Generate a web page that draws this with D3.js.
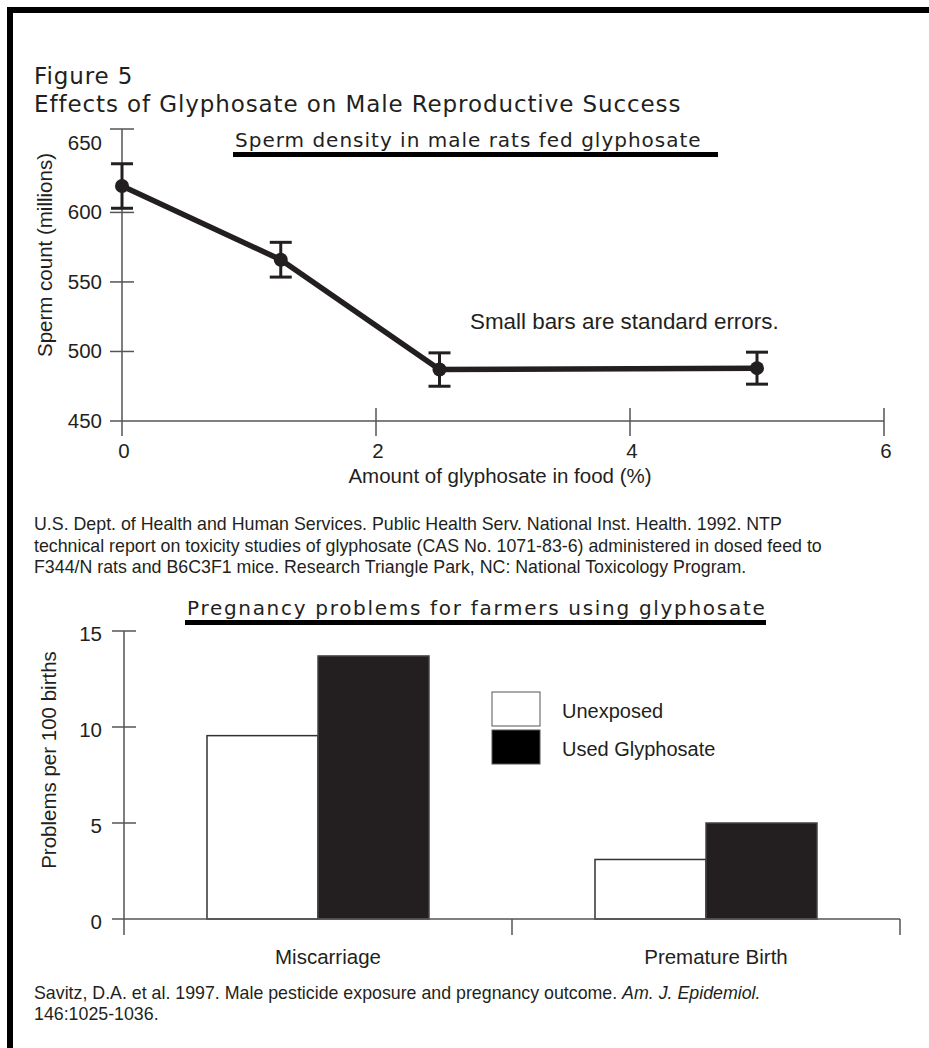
<!DOCTYPE html>
<html>
<head>
<meta charset="utf-8">
<script src="https://cdn.jsdelivr.net/npm/d3@7"></script>
<style>
  body { margin: 0; background: #fff; }
  svg { display: block; }
  .geo { font-family: "DejaVu Sans", sans-serif; fill: #231f20; }
  .hel { font-family: "Liberation Sans", Arial, sans-serif; fill: #231f20; }
</style>
</head>
<body>
<div id="chart"></div>
<script>
const d3 = window.d3;

// panel 1: sperm density in rats
const dose = [0, 1.25, 2.5, 5];
const spermCount = [619, 566, 487, 488];
const spermSE = [16, 12.5, 12, 11.5];
const doseTicks = [0, 2, 4, 6];
const countTicks = [450, 500, 550, 600, 650];

// panel 2: pregnancy problems
const outcomes = ["Miscarriage", "Premature Birth"];
const groups = ["Unexposed", "Used Glyphosate"];
const unexposedRate = [9.55, 3.1];
const glyphosateRate = [13.7, 5.0];
const rateTicks = [0, 5, 10, 15];

const citation1 = [
  "U.S. Dept. of Health and Human Services. Public Health Serv. National Inst. Health. 1992. NTP",
  "technical report on toxicity studies of glyphosate (CAS No. 1071-83-6) administered in dosed feed to",
  "F344/N rats and B6C3F1 mice. Research Triangle Park, NC: National Toxicology Program."
];

const INK = "#231f20";
const AXIS = "#555";
const W = 929, H = 1048;
const FS = "20.5px";

const svg = d3.select("#chart").append("svg").attr("width", W).attr("height", H);

// frame (top + left only)
svg.append("rect").attr("x", 7).attr("y", 7).attr("width", W - 7).attr("height", 6).attr("fill", "#000");
svg.append("rect").attr("x", 7).attr("y", 7).attr("width", 6).attr("height", H - 7).attr("fill", "#000");

svg.append("text").attr("class", "geo").attr("x", 34).attr("y", 84)
  .style("font-size", "23px").style("letter-spacing", "0.9px").text("Figure 5");
svg.append("text").attr("class", "geo").attr("x", 34).attr("y", 112)
  .style("font-size", "23px").style("letter-spacing", "0.9px").text("Effects of Glyphosate on Male Reproductive Success");

// ---------- panel 1 ----------
const x1 = d3.scaleLinear().domain([0, 6]).range([122, 884]);
const y1 = d3.scaleLinear().domain([450, 660]).range([421, 129]);
const g1 = svg.append("g");

// axes
g1.append("line").attr("x1", 110).attr("x2", x1(6)).attr("y1", y1(450)).attr("y2", y1(450))
  .attr("stroke", AXIS).attr("stroke-width", 1.5);
g1.append("line").attr("x1", x1(0)).attr("x2", x1(0)).attr("y1", y1(660)).attr("y2", y1(450) + 15)
  .attr("stroke", AXIS).attr("stroke-width", 1.5);
g1.selectAll(".xt").data(doseTicks.slice(1)).join("line")
  .attr("x1", d => x1(d)).attr("x2", d => x1(d))
  .attr("y1", y1(450) - 13).attr("y2", y1(450) + 15)
  .attr("stroke", AXIS).attr("stroke-width", 1.5);
g1.selectAll(".yt").data([500, 550, 600, 660]).join("line")
  .attr("x1", x1(0) - 12).attr("x2", x1(0) + 12)
  .attr("y1", d => y1(d)).attr("y2", d => y1(d))
  .attr("stroke", AXIS).attr("stroke-width", 1.5);
g1.selectAll(".xl").data(doseTicks).join("text").attr("class", "hel")
  .attr("x", d => x1(d) + 2).attr("y", 458).attr("text-anchor", "middle")
  .style("font-size", FS).text(d => d);
g1.selectAll(".yl").data(countTicks).join("text").attr("class", "hel")
  .attr("x", 102).attr("y", d => y1(d) + 7).attr("text-anchor", "end")
  .style("font-size", FS).text(d => d);

g1.append("text").attr("class", "hel")
  .attr("transform", "translate(52,255) rotate(-90)").attr("text-anchor", "middle")
  .style("font-size", FS).text("Sperm count (millions)");
g1.append("text").attr("class", "hel").attr("x", 500).attr("y", 483).attr("text-anchor", "middle")
  .style("font-size", FS).text("Amount of glyphosate in food (%)");

g1.append("text").attr("class", "geo").attr("x", 235).attr("y", 147)
  .style("font-size", "20px").style("letter-spacing", "1px").text("Sperm density in male rats fed glyphosate");
g1.append("rect").attr("x", 233).attr("y", 152).attr("width", 485).attr("height", 5).attr("fill", "#000");

g1.append("text").attr("class", "hel").attr("x", 470).attr("y", 329)
  .style("font-size", "22.4px").text("Small bars are standard errors.");

const pts = dose.map((d, i) => ({ x: d, y: spermCount[i], se: spermSE[i] }));

g1.append("path").datum(pts)
  .attr("d", d3.line().x(d => x1(d.x)).y(d => y1(d.y)))
  .attr("fill", "none").attr("stroke", INK).attr("stroke-width", 5.5).attr("stroke-linejoin", "round");

const eb = g1.selectAll(".eb").data(pts).join("g");
eb.append("line").attr("x1", d => x1(d.x)).attr("x2", d => x1(d.x))
  .attr("y1", d => y1(d.y - d.se)).attr("y2", d => y1(d.y + d.se))
  .attr("stroke", INK).attr("stroke-width", 3);
eb.selectAll(".cap").data(d => [d.y - d.se, d.y + d.se].map(v => ({ x: d.x, v }))).join("line")
  .attr("x1", d => x1(d.x) - 11).attr("x2", d => x1(d.x) + 11)
  .attr("y1", d => y1(d.v)).attr("y2", d => y1(d.v))
  .attr("stroke", INK).attr("stroke-width", 3);
g1.selectAll(".dot").data(pts).join("circle")
  .attr("cx", d => x1(d.x)).attr("cy", d => y1(d.y)).attr("r", 7).attr("fill", INK);

// citation 1
svg.append("g").selectAll("text").data(citation1).join("text").attr("class", "hel")
  .attr("x", 34).attr("y", (d, i) => 530 + i * 21.5)
  .style("font-size", "17.8px").text(d => d);

// ---------- panel 2 ----------
const x2 = d3.scaleBand().domain(outcomes).range([124, 900]);
const xg = d3.scaleBand().domain(groups).range([x2.bandwidth() / 2 - 111, x2.bandwidth() / 2 + 111]);
const y2 = d3.scaleLinear().domain([0, 15]).range([919, 631]);
const g2 = svg.append("g");

g2.append("text").attr("class", "geo").attr("x", 187).attr("y", 615)
  .style("font-size", "20px").style("letter-spacing", "1.7px").text("Pregnancy problems for farmers using glyphosate");
g2.append("rect").attr("x", 185).attr("y", 620).attr("width", 581).attr("height", 5).attr("fill", "#000");

const rows = outcomes.map((o, i) => ({ o, vals: [unexposedRate[i], glyphosateRate[i]] }));
const barG = g2.selectAll(".bg").data(rows).join("g")
  .attr("transform", d => `translate(${x2(d.o)},0)`);
barG.selectAll("rect").data(d => d.vals.map((v, j) => ({ g: groups[j], v }))).join("rect")
  .attr("x", d => xg(d.g)).attr("width", xg.bandwidth())
  .attr("y", d => y2(d.v)).attr("height", d => y2(0) - y2(d.v))
  .attr("fill", d => d.g === groups[0] ? "#fff" : INK)
  .attr("stroke", d => d.g === groups[0] ? "#333" : "#444").attr("stroke-width", 1.5);

// axes
g2.append("line").attr("x1", 112).attr("x2", 900).attr("y1", y2(0)).attr("y2", y2(0))
  .attr("stroke", AXIS).attr("stroke-width", 1.5);
g2.append("line").attr("x1", 124).attr("x2", 124).attr("y1", y2(15)).attr("y2", y2(0) + 16)
  .attr("stroke", AXIS).attr("stroke-width", 1.5);
g2.selectAll(".xt").data([outcomes[1]]).join("line")
  .attr("x1", d => x2(d)).attr("x2", d => x2(d)).attr("y1", y2(0)).attr("y2", y2(0) + 16)
  .attr("stroke", AXIS).attr("stroke-width", 1.5);
g2.append("line").attr("x1", 900).attr("x2", 900).attr("y1", y2(0)).attr("y2", y2(0) + 16)
  .attr("stroke", AXIS).attr("stroke-width", 1.5);
g2.selectAll(".yt").data(rateTicks.slice(1)).join("line")
  .attr("x1", 112).attr("x2", 136).attr("y1", d => y2(d)).attr("y2", d => y2(d))
  .attr("stroke", AXIS).attr("stroke-width", 1.5);
g2.selectAll(".yl").data(rateTicks).join("text").attr("class", "hel")
  .attr("x", 102).attr("y", d => y2(d) + 10).attr("text-anchor", "end")
  .style("font-size", FS).text(d => d);
g2.selectAll(".xl").data(outcomes).join("text").attr("class", "hel")
  .attr("x", d => x2(d) + x2.bandwidth() / 2 + 10).attr("y", 964).attr("text-anchor", "middle")
  .style("font-size", FS).text(d => d);
g2.append("text").attr("class", "hel")
  .attr("transform", "translate(56,760) rotate(-90)").attr("text-anchor", "middle")
  .style("font-size", FS).text("Problems per 100 births");

// legend
const lg = g2.selectAll(".lg").data(groups).join("g")
  .attr("transform", (d, i) => `translate(492,${692 + i * 38})`);
lg.append("rect").attr("width", 48).attr("height", 34)
  .attr("fill", (d, i) => i === 0 ? "#fff" : "#000").attr("stroke", "#555").attr("stroke-width", 1);
lg.append("text").attr("class", "hel").attr("x", 70).attr("y", 26)
  .style("font-size", "20px").text(d => d);

// citation 2
const c2 = svg.append("text").attr("class", "hel").attr("x", 34).attr("y", 999).style("font-size", "17.8px");
c2.append("tspan").text("Savitz, D.A. et al. 1997. Male pesticide exposure and pregnancy outcome. ");
c2.append("tspan").style("font-style", "italic").text("Am. J. Epidemiol.");
svg.append("text").attr("class", "hel").attr("x", 34).attr("y", 1020).style("font-size", "17.8px").text("146:1025-1036.");
</script>
</body>
</html>
